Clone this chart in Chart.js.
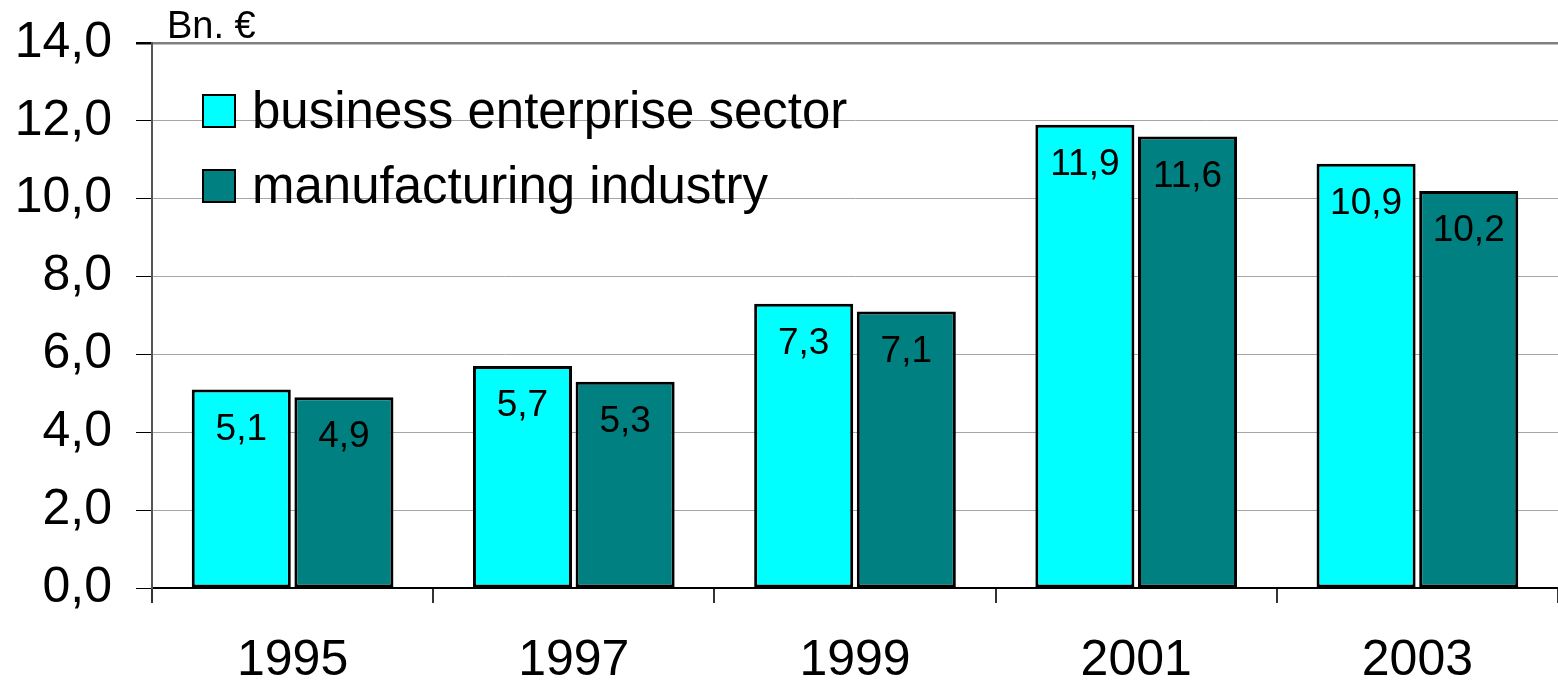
<!DOCTYPE html>
<html>
<head>
<meta charset="utf-8">
<title>R&D expenditure</title>
<script src="https://cdn.jsdelivr.net/npm/chart.js@4/dist/chart.umd.min.js"></script>
<style>
  html, body { margin: 0; padding: 0; background: #fff; }
  #wrap { width: 1558px; height: 683px; position: relative; }
</style>
</head>
<body>
<div id="wrap"><canvas id="grafico"></canvas></div>
<script>
// Datos del gráfico
const years = ['1995', '1997', '1999', '2001', '2003'];
const businessSector = [5.1, 5.7, 7.3, 11.9, 10.9];
const manufacturing = [4.9, 5.3, 7.1, 11.6, 10.2];
const seriesNames = ['business enterprise sector', 'manufacturing industry'];
const yTicks = [0, 2, 4, 6, 8, 10, 12, 14];
const unitLabel = 'Bn. €';

const FONT = "'Liberation Sans', Arial, sans-serif";
const fmt = v => v.toFixed(1).replace('.', ',');

// Etiquetas de valor dentro de cada barra
const valueLabels = {
  id: 'valueLabels',
  afterDatasetsDraw(chart) {
    const ctx = chart.ctx;
    ctx.save();
    ctx.font = '37px ' + FONT;
    ctx.fillStyle = '#000';
    ctx.textAlign = 'center';
    ctx.textBaseline = 'middle';
    chart.data.datasets.forEach((ds, i) => {
      chart.getDatasetMeta(i).data.forEach((bar, j) => {
        ctx.fillText(fmt(ds.data[j]), bar.x, bar.y + 40);
      });
    });
    ctx.restore();
  }
};

// Leyenda dentro del área y unidad arriba
const extras = {
  id: 'extras',
  afterDraw(chart) {
    const ctx = chart.ctx;
    const a = chart.chartArea;
    ctx.save();
    ctx.font = '38px ' + FONT;
    ctx.fillStyle = '#000';
    ctx.textBaseline = 'alphabetic';
    ctx.fillText(unitLabel, a.left + 15, a.top - 5);

    ctx.font = '51px ' + FONT;
    chart.data.datasets.forEach((ds, i) => {
      const y = a.top + 52 + i * 75;
      ctx.fillStyle = ds.backgroundColor;
      ctx.fillRect(a.left + 51, y, 32, 32);
      ctx.lineWidth = 2;
      ctx.strokeStyle = '#000';
      ctx.strokeRect(a.left + 51, y, 32, 32);
      ctx.fillStyle = '#000';
      ctx.fillText(ds.label, a.left + 100, y + 33);
    });
    ctx.restore();
  }
};

new Chart(document.getElementById('grafico'), {
  type: 'bar',
  data: {
    labels: years,
    datasets: [
      { label: seriesNames[0], data: businessSector, backgroundColor: '#00FFFF' },
      { label: seriesNames[1], data: manufacturing, backgroundColor: '#008080' }
    ]
  },
  options: {
    responsive: true,
    maintainAspectRatio: false,
    animation: false,
    devicePixelRatio: 1,
    layout: { padding: { top: 43, left: 0, right: 0, bottom: 0 } },
    datasets: {
      bar: {
        borderColor: '#000',
        borderWidth: 3,
        borderSkipped: false,
        categoryPercentage: 0.73,
        barPercentage: 0.965
      }
    },
    plugins: {
      legend: { display: false },
      tooltip: { enabled: false },
      title: { display: false }
    },
    scales: {
      x: {
        grid: {
          offset: true,
          drawOnChartArea: false,
          drawTicks: true,
          tickLength: 15,
          tickColor: '#333',
          lineWidth: 2
        },
        border: { color: '#000', width: 2 },
        ticks: {
          color: '#000',
          font: { family: FONT, size: 50 },
          padding: 28
        },
        afterFit(scale) {
          scale.height = 95;
          scale.paddingLeft = 0;
          scale.paddingRight = 0;
        }
      },
      y: {
        min: 0,
        max: 14,
        afterBuildTicks(scale) { scale.ticks = yTicks.map(v => ({ value: v })); },
        grid: {
          color: ctx => (ctx.tick && ctx.tick.value === 14 ? '#808080' : '#a6a6a6'),
          lineWidth: ctx => (ctx.tick && ctx.tick.value === 14 ? 2.5 : 1),
          tickColor: '#000',
          tickLength: 16
        },
        border: { color: '#555', width: 2 },
        ticks: {
          color: '#000',
          font: { family: FONT, size: 50 },
          padding: 24,
          callback: v => fmt(v)
        },
        afterFit(scale) {
          scale.width = 152;
          scale.paddingTop = 0;
          scale.paddingBottom = 0;
        }
      }
    }
  },
  plugins: [valueLabels, extras]
});
</script>
</body>
</html>
